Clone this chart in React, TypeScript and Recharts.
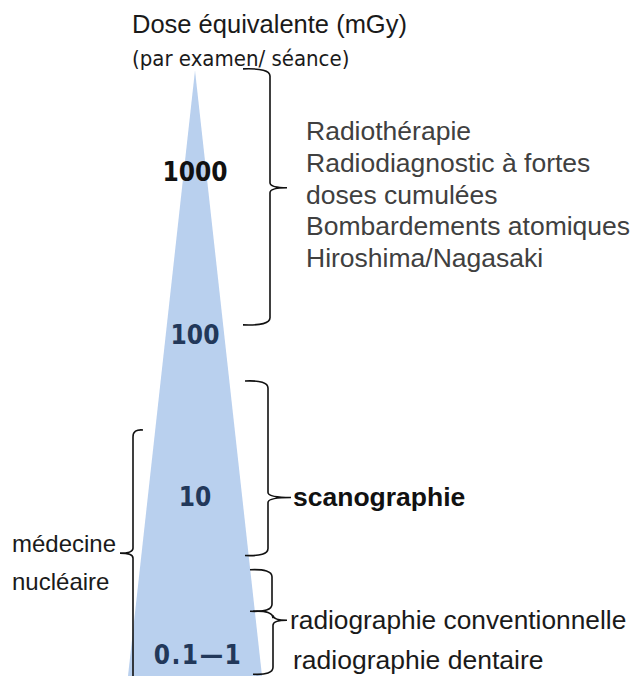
import React from 'react';
import { ComposedChart, Area, XAxis, YAxis, ReferenceArea, ReferenceDot } from 'recharts';

// doses in mGy, drawn on a log10 vertical scale
const coneWidths = [-67, 0, 67];
const coneDoses = [0.8, 4200, 0.8];

const doseTicks = [1000, 100, 10, 1];
const doseTickLabels = ['1000', '100', '10', '0.1—1'];

// dose ranges covered by each bracket
const rangeHigh = [4300, 52, 3.6, 2.0, 26];
const rangeLow = [115, 4.4, 2.0, 0.82, 0.8];
const rangeTip = [800, 10, 0, 1.76, 4.55];

const examLabels = [
  ['Radiothérapie', 'Radiodiagnostic à fortes', 'doses cumulées', 'Bombardements atomiques', 'Hiroshima/Nagasaki'],
  ['scanographie'],
  ['radiographie conventionnelle'],
  ['radiographie dentaire'],
  ['médecine', 'nucléaire'],
];
const examDoses = [726, 10, 1.76, 1.0, 4.0];

const W = 634;
const H = 676;
const log = (v: number) => Math.log10(v);
const yDomain = [log(0.8), log(11400)];

const coneData = coneWidths.map((w, i) => ({ w, cone: [yDomain[0], log(coneDoses[i])] }));

// horizontal layout of brackets, in px from the cone axis: [end, spine, tip]
const bracketX = [
  [48, 75, 92],
  [50, 73, 96],
  [55, 77, 77],
  [58, 78, 92],
  [-52, -62, -75],
];
const labelX = [111, 98, 95, 98, -183];
const labelStyle = [
  { fill: '#404040', fontWeight: 400, fontSize: 26.5, lh: 31.75 },
  { fill: '#111', fontWeight: 700, fontSize: 26.5, lh: 30 },
  { fill: '#1a1a1a', fontWeight: 400, fontSize: 26.3, lh: 30 },
  { fill: '#1a1a1a', fontWeight: 400, fontSize: 26.5, lh: 30 },
  { fill: '#1a1a1a', fontWeight: 400, fontSize: 24, lh: 38 },
];

const bracePath = (i: number) => (p: any) => {
  const { x, y, width, height } = p;
  const [e, s, t] = bracketX[i];
  const lo = Math.min(e, t);
  const span = Math.abs(t - e) || 1;
  const px = (v: number) => x + ((v - lo) / span) * width;
  const xe = px(e);
  const xs = px(s);
  const xt = px(t);
  const top = y;
  const bot = y + height;
  const r = 7;
  let d = `M${xe},${top} Q${xs},${top - 1} ${xs},${top + r}`;
  if (rangeTip[i] > 0) {
    const f = (log(rangeHigh[i]) - log(rangeTip[i])) / (log(rangeHigh[i]) - log(rangeLow[i]));
    const ym = top + f * height;
    d += ` L${xs},${ym - 5} Q${xs},${ym} ${xt},${ym} M${xt},${ym} Q${xs},${ym} ${xs},${ym + 5}`;
  }
  if (i === 4) {
    d += ` L${xs},${bot + 2}`;
  } else {
    d += ` L${xs},${bot - r} Q${xs},${bot + 1} ${xe},${bot}`;
  }
  return <path d={d} fill="none" stroke="#111" strokeWidth={1.6} />;
};

const labelShape = (i: number) => (p: any) => {
  const st = labelStyle[i];
  const lines = examLabels[i];
  const first = p.cy - ((lines.length - 1) * st.lh) / 2;
  return (
    <text
      fontFamily="'Liberation Sans', Arial, sans-serif"
      fontSize={st.fontSize}
      fontWeight={st.fontWeight}
      fill={st.fill}
      dominantBaseline="central"
    >
      {lines.map((l, k) => (
        <tspan key={k} x={p.cx} y={first + k * st.lh}>
          {l}
        </tspan>
      ))}
    </text>
  );
};

const tickShape = (i: number) => (p: any) => (
  <text
    x={p.cx + (i === 3 ? 3 : 0)}
    y={p.cy + (i === 3 ? -5 : 0)}
    textAnchor="middle"
    dominantBaseline="central"
    fontFamily="'DejaVu Sans Condensed', 'DejaVu Sans', sans-serif"
    fontWeight={700}
    fontSize={26}
    letterSpacing={i === 3 ? 1.5 : 0}
    fill={i === 0 ? '#111' : '#22385a'}
  >
    {doseTickLabels[i]}
  </text>
);

export default function App() {
  return (
    <div style={{ position: 'absolute', left: 0, top: 0, width: W, height: H, background: '#fff' }}>
      <div
        style={{
          position: 'absolute',
          left: 132,
          top: 9,
          fontFamily: "'Liberation Sans', Arial, sans-serif",
          fontSize: 25.5,
          color: '#1a1a1a',
          lineHeight: '30px',
          whiteSpace: 'nowrap',
        }}
      >
        Dose équivalente (mGy)
      </div>
      <div
        style={{
          position: 'absolute',
          left: 132,
          top: 46,
          fontFamily: "'DejaVu Sans Condensed', 'DejaVu Sans', sans-serif",
          fontSize: 22,
          color: '#1a1a1a',
          lineHeight: '26px',
          whiteSpace: 'nowrap',
        }}
      >
        (par examen/ séance)
      </div>
      <ComposedChart width={W} height={H} data={coneData} margin={{ top: 0, right: 0, bottom: 0, left: 0 }}>
        <XAxis dataKey="w" type="number" domain={[-195, 439]} hide allowDataOverflow />
        <YAxis type="number" domain={yDomain} hide allowDataOverflow />
        <Area
          type="linear"
          dataKey="cone"
          fill="#b9d0ee"
          fillOpacity={1}
          stroke="none"
          isAnimationActive={false}
          dot={false}
          activeDot={false}
        />
        {rangeHigh.map((hi, i) => {
          const [e, , t] = bracketX[i];
          return (
            <ReferenceArea
              key={'b' + i}
              x1={Math.min(e, t)}
              x2={Math.max(e, t)}
              y1={log(rangeLow[i])}
              y2={log(hi)}
              ifOverflow="visible"
              shape={bracePath(i)}
            />
          );
        })}
        {doseTicks.map((d, i) => (
          <ReferenceDot key={'t' + i} x={0} y={log(d)} r={0} ifOverflow="visible" shape={tickShape(i)} />
        ))}
        {examDoses.map((d, i) => (
          <ReferenceDot key={'l' + i} x={labelX[i]} y={log(d)} r={0} ifOverflow="visible" shape={labelShape(i)} />
        ))}
      </ComposedChart>
    </div>
  );
}
